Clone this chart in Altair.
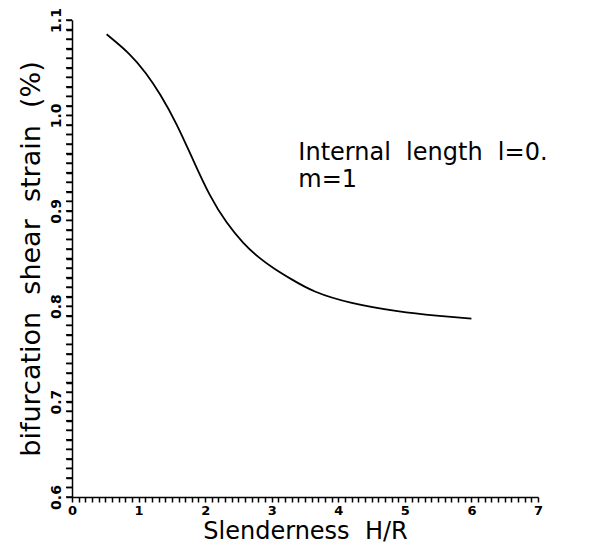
import altair as alt
import pandas as pd

# Curve
slenderness = [0.52, 0.87, 1.12, 1.32, 1.57, 1.82, 2.07, 2.32, 2.57, 2.80, 3.02, 3.30, 3.62, 4.17, 4.92, 5.48, 6.00]
strain = [1.085, 1.065, 1.044, 1.023, 0.992, 0.953, 0.915, 0.887, 0.866, 0.851, 0.840, 0.828, 0.815, 0.803, 0.794, 0.790, 0.787]

NB = "\u00a0"
note_lines = ["Internal" + NB * 2 + "length" + NB * 2 + "l=0.", "m=1"]
note_x = [3.4, 3.4]
note_y = [0.953, 0.925]

x_ticks = [round(i * 0.1, 1) for i in range(0, 71)]
y_ticks = [round(0.6 + i * 0.01, 2) for i in range(0, 51)]

df = pd.DataFrame({"x": slenderness, "y": strain})
notes = pd.DataFrame({"x": note_x, "y": note_y, "t": note_lines})
yt = pd.DataFrame({"y": y_ticks})

FONT = "DejaVu Sans"

x_scale = alt.Scale(domain=[0, 7], nice=False, zero=False)
y_scale = alt.Scale(domain=[0.6, 1.1], nice=False, zero=False)

x_axis = alt.Axis(
    title="Slenderness" + NB * 2 + "H/R",
    values=x_ticks,
    tickCount=500,
    labelExpr="abs(datum.value - round(datum.value)) < 0.001 ? format(datum.value, 'd') : ''",
    labelOverlap=False,
    labelFlush=False,
    grid=False,
    tickSize=5,
    tickWidth=1.5,
    tickColor="black",
    domainColor="black",
    domainWidth=1.5,
    labelFont=FONT,
    labelFontSize=13,
    labelFontWeight="bold",
    labelColor="black",
    labelPadding=2,
    titleFont=FONT,
    titleFontSize=24,
    titleFontWeight="normal",
    titleColor="black",
    titlePadding=2,
)

y_axis = alt.Axis(
    title="bifurcation" + NB * 2 + "shear" + NB * 2 + "strain" + NB * 2 + "(%)",
    values=y_ticks,
    tickCount=500,
    labelExpr="abs(datum.value*10 - round(datum.value*10)) < 0.001 ? format(datum.value, '.1f') : ''",
    labelOverlap=False,
    labelFlush=False,
    labelAngle=270,
    labelAlign="center",
    labelBaseline="bottom",
    grid=False,
    ticks=True,
    tickSize=6,
    tickWidth=1.5,
    tickColor="black",
    domainColor="black",
    domainWidth=1.5,
    labelFont=FONT,
    labelFontSize=14,
    labelFontWeight="bold",
    labelColor="black",
    labelPadding=3,
    titleFont=FONT,
    titleFontSize=27,
    titleFontWeight="normal",
    titleColor="black",
    titlePadding=4,
)

line = alt.Chart(df).mark_line(color="black", strokeWidth=1.8, interpolate="basis").encode(
    x=alt.X("x:Q", scale=x_scale, axis=x_axis),
    y=alt.Y("y:Q", scale=y_scale, axis=y_axis),
)

yticks_layer = alt.Chart(yt).mark_rule(color="black", strokeWidth=1.5).encode(
    y=alt.Y("y:Q", scale=y_scale),
    x=alt.value(-6),
    x2=alt.value(0),
)

text = alt.Chart(notes).mark_text(
    align="left", baseline="alphabetic", fontSize=24, font=FONT, color="black"
).encode(
    x=alt.X("x:Q", scale=x_scale),
    y=alt.Y("y:Q", scale=y_scale),
    text="t:N",
)

chart = alt.layer(line, yticks_layer, text).properties(
    width=466,
    height=477,
    padding={"left": 64, "top": 12, "right": 8, "bottom": 50},
    autosize="none",
    background="white",
).configure_view(strokeWidth=0)

chart.save("out.html", embed_options={"renderer": "svg", "actions": False})
